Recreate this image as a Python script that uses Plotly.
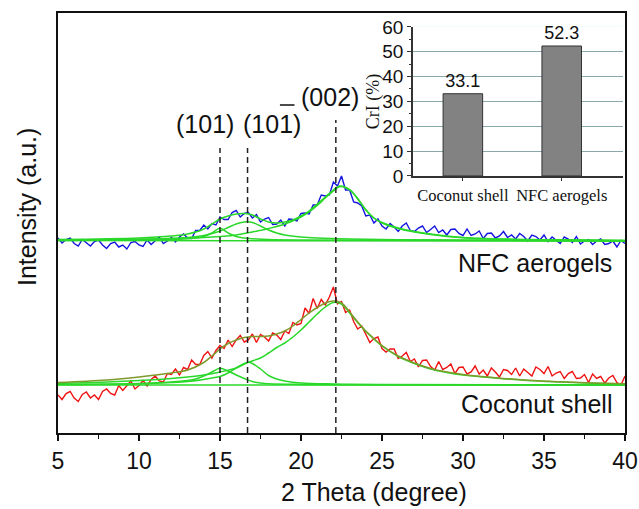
import plotly.graph_objects as go

# ---------------- data (intensity in arbitrary units) -------------
two_theta = [5 + 0.25 * i for i in range(141)]

nfc_raw = [195, 190, 193.5, 195, 189.5, 187, 193.5, 190, 187, 191.5, 193, 188, 184.5, 189.5, 191, 186, 188, 184, 190.5, 191.5,
           188, 186.5, 193, 188.5, 192.5, 196, 189.5, 192, 195.5, 191, 196, 199, 195, 194.5, 202.5, 202.5, 208, 204, 209.5, 208,
           216, 213.5, 213.5, 220.5, 222.5, 216, 219.5, 220.5, 215, 218.5, 211, 214, 215.5, 208.5, 209, 213, 207, 214, 213.5, 212,
           219.5, 220, 219, 228, 228, 238, 237, 238, 251, 247, 257, 243, 243, 231, 230, 227, 217, 218, 210, 214,
           207, 204, 209.5, 206, 201.5, 207, 210, 202.5, 201.5, 205, 207, 200.5, 203.5, 207, 200.5, 203, 198, 203.5, 204, 199.5,
           197.5, 204, 197.5, 199, 202, 194.5, 199.5, 200, 195, 197, 201.5, 195.5, 198, 194, 199.5, 196.5, 192, 198, 196.5, 193,
           198, 191.5, 196, 192.5, 189.5, 196, 194, 190.5, 196.5, 189, 192, 193.5, 188.5, 192, 194, 188.5, 189.5, 192, 186, 192.5,
           189.5]

coconut_raw = [38, 33.5, 39.5, 41.5, 35, 31.5, 38.5, 41, 35, 38, 33.5, 41.5, 44, 39.5, 38, 47.5, 42.5, 47.5, 52, 44,
               47.5, 52.5, 47, 53.5, 57, 52, 51, 59.5, 58.5, 64, 58, 65.5, 63.5, 73, 68.5, 68.5, 77.5, 81.5, 75, 82.5,
               87.5, 84.5, 93, 86.5, 93, 97.5, 91, 93, 99, 90.5, 98.5, 96, 92, 100, 98, 93.5, 102, 99.5, 110.5, 108,
               109.5, 125, 119.5, 134.5, 124.5, 133.5, 128, 136, 146, 129, 131.5, 120.5, 123, 111.5, 104, 107, 99, 90.5, 94.5, 96,
               84.5, 81, 84, 84, 74.5, 77, 80.5, 71.5, 74, 66, 72.5, 73, 66.5, 63, 71.5, 63.5, 65.5, 69, 59.5, 65.5,
               66, 59, 61, 67, 59, 63, 57, 65, 61, 56, 63.5, 62.5, 58.5, 65, 57, 64, 60.5, 57, 66, 63.5,
               59.5, 66.5, 57, 60, 61.5, 54.5, 59.5, 61.5, 54.5, 55, 58.5, 50.5, 59, 54.5, 56.5, 50, 55, 57.5, 50.5, 48,
               57]

# peak-fit components, NFC aerogels
nfc_base_x = [5, 40]
nfc_base_y = [192.5, 191.8]
nfc_p101_x = [5, 10, 12, 13, 13.5, 14, 14.5, 15, 15.5, 16, 16.5, 17, 18, 20, 25, 40]
nfc_p101_y = [192.6, 193, 193.5, 194.3, 195, 196.5, 200, 204.7, 200, 196.5, 195, 194.3, 193.5, 193, 192.7, 192.3]
nfc_p10m1_x = [5, 10, 12, 13, 14, 14.5, 15, 15.5, 16, 16.5, 16.7, 17, 17.5, 18, 18.5, 19, 20, 21, 23, 26, 30, 40]
nfc_p10m1_y = [192.8, 193.5, 194.5, 195.5, 197.5, 199.5, 202, 205.5, 209, 211, 211.3, 210.5, 207, 203, 200, 198,
               196, 195, 194, 193.3, 193, 192.4]
nfc_p002_x = [5, 8, 10, 12, 14, 15, 16, 17, 18, 19, 20, 20.5, 21, 21.5, 22, 22.4, 23, 23.5, 24, 24.5, 25, 26,
              27, 28, 30, 33, 36, 40]
nfc_p002_y = [192.8, 193.3, 193.8, 194.5, 195.5, 196.5, 198, 201, 204.5, 209, 216, 221, 227.5, 235, 242, 246.5,
              243, 234, 223, 215, 210, 204.5, 201, 198.5, 195.3, 193.6, 193, 192.2]
nfc_fit_x = [5, 10, 12, 13, 14, 14.5, 15, 15.5, 16, 16.5, 17, 17.5, 18, 18.5, 19, 19.5, 20, 20.5, 21, 21.5, 22,
             22.4, 23, 23.5, 24, 24.5, 25, 26, 27, 28, 30, 33, 36, 40]
nfc_fit_y = [193.5, 195, 197, 199, 204, 209, 214, 217, 219, 219.5, 218, 214, 211, 210, 211, 213, 217, 222, 229,
             236, 243, 247, 243.5, 234.5, 223.5, 215, 210.5, 205, 201.5, 199, 195.5, 193.8, 193.2, 192.4]

# peak-fit components, coconut shell
coc_base_x = [5, 40]
coc_base_y = [48, 48]
coc_p101_x = [5, 10, 12, 13, 13.5, 14, 14.5, 15, 15.5, 16, 16.5, 17, 17.5, 18, 20, 25, 40]
coc_p101_y = [48.5, 49.5, 51, 52.5, 54, 57, 61, 64.7, 62, 58, 54.5, 51.5, 50, 49.3, 48.6, 48.2, 48]
coc_p10m1_x = [5, 10, 12, 13, 14, 14.5, 15, 15.5, 16, 16.5, 16.75, 17, 17.5, 18, 18.5, 19, 20, 22, 25, 40]
coc_p10m1_y = [48.5, 49.3, 50.5, 51.5, 53.5, 55, 56.5, 60, 65, 69.5, 70.7, 69.5, 64, 57.5, 54, 52, 50, 49,
               48.5, 48.1]
coc_p002_x = [5, 8, 10, 12, 13, 14, 15, 16, 16.7, 17.5, 18, 18.5, 19, 19.5, 20, 20.5, 21, 21.5, 22, 22.5, 23,
              23.5, 24, 24.5, 25, 26, 27, 28, 29, 30, 32, 34, 36, 38, 40]
coc_p002_y = [49.5, 51, 52.5, 54.5, 56, 58, 61, 65, 70.5, 75, 80, 85.5, 90, 96, 103, 111, 119, 126, 130.5, 129,
              120, 110.5, 101.5, 94, 87, 76.5, 69.5, 64, 60.5, 58, 55, 52.5, 51, 49.8, 49]
coc_fit_x = [5, 8, 10, 12, 13, 14, 14.5, 15, 15.5, 16, 16.5, 17, 17.5, 18, 18.5, 19, 19.5, 20, 20.5, 21, 21.5,
             22, 22.5, 23, 23.5, 24, 24.5, 25, 26, 27, 28, 29, 30, 32, 34, 36, 38, 40]
coc_fit_y = [50.5, 53, 56, 60, 63, 70.5, 77, 84, 89.5, 93, 95.5, 96.5, 96.5, 97, 99, 102, 107, 113.5, 120, 125.5,
             130, 132, 130, 121, 111, 102, 94.5, 87.5, 77, 70, 64.5, 61, 58.5, 55.3, 52.8, 51.2, 50, 49.2]

# reflections
peak_positions = [15.0, 16.7, 22.15]
peak_line_tops = [285, 285, 313]

# inset: crystallinity index
cri_categories = ["Coconut shell", "NFC aerogels"]
cri_values = [33.1, 52.3]

# ---------------- figure -------------------------------------------------------------------
GREEN = "#2ad82a"
OLIVE = "#7f9a2c"
SANS = "Liberation Sans, Arial"
SERIF = "Liberation Serif, Times New Roman"
fig = go.Figure()

fig.add_trace(go.Scatter(x=two_theta, y=nfc_raw, mode="lines", line=dict(color="#1414e0", width=1.4),
                         showlegend=False, hoverinfo="skip"))
fig.add_trace(go.Scatter(x=two_theta, y=coconut_raw, mode="lines", line=dict(color="#f01212", width=1.4),
                         showlegend=False, hoverinfo="skip"))

for xs, ys, col in [(nfc_base_x, nfc_base_y, GREEN), (nfc_p101_x, nfc_p101_y, GREEN),
                    (nfc_p10m1_x, nfc_p10m1_y, GREEN), (nfc_p002_x, nfc_p002_y, GREEN),
                    (nfc_fit_x, nfc_fit_y, GREEN),
                    (coc_base_x, coc_base_y, GREEN), (coc_p101_x, coc_p101_y, GREEN),
                    (coc_p10m1_x, coc_p10m1_y, GREEN), (coc_p002_x, coc_p002_y, GREEN),
                    (coc_fit_x, coc_fit_y, OLIVE)]:
    fig.add_trace(go.Scatter(x=xs, y=ys, mode="lines", line=dict(color=col, width=1.5, shape="spline"),
                             showlegend=False, hoverinfo="skip"))

# dashed reference lines
for px, top in zip(peak_positions, peak_line_tops):
    fig.add_shape(type="line", xref="x", yref="y", x0=px, x1=px, y0=0, y1=top,
                  line=dict(color="#222", width=1.5, dash="6px,4px"))

# inset bars
fig.add_trace(go.Bar(x=[0, 1], y=cri_values, xaxis="x2", yaxis="y2", width=0.4,
                     marker=dict(color="#828282", line=dict(color="#333", width=1)),
                     text=[f"{v}" for v in cri_values], textposition="outside", cliponaxis=False,
                     textfont=dict(family=SANS, size=18, color="#111"),
                     showlegend=False, hoverinfo="skip"))

INSET_X = [0.626, 0.9965]
INSET_Y = [0.612, 0.967]
fig.add_shape(type="rect", xref="paper", yref="paper", x0=INSET_X[0], x1=INSET_X[1], y0=INSET_Y[0], y1=INSET_Y[1],
              fillcolor="#c6f3f8", line=dict(width=0), layer="below")
fig.add_annotation(x=0.557, y=(INSET_Y[0] + INSET_Y[1]) / 2, xref="paper", yref="paper", text="CrI (%)",
                   showarrow=False, textangle=-90, xanchor="center", yanchor="middle",
                   font=dict(family=SERIF, size=18, color="#111"))

# labels
lab_font = dict(family=SANS, size=25, color="#111")
fig.add_annotation(x=14.07, y=309.5, xref="x", yref="y", text="(101)", showarrow=False, font=lab_font)
fig.add_annotation(x=18.24, y=309.5, xref="x", yref="y", text="(101)", showarrow=False, font=lab_font)
fig.add_shape(type="line", xref="x", yref="y", x0=18.7, x1=19.6, y0=328, y1=328, line=dict(color="#111", width=1.5))
fig.add_annotation(x=21.79, y=336.5, xref="x", yref="y", text="(002)", showarrow=False, font=lab_font)
fig.add_annotation(x=39.3, y=170, xref="x", yref="y", text="NFC aerogels", showarrow=False, xanchor="right",
                   font=dict(family=SANS, size=25, color="#111"))
fig.add_annotation(x=39.3, y=29, xref="x", yref="y", text="Coconut shell", showarrow=False, xanchor="right",
                   font=dict(family=SANS, size=25, color="#111"))
fig.add_annotation(x=0.557, y=-0.1405, xref="paper", yref="paper", text="2 Theta (degree)", showarrow=False,
                   yanchor="middle", font=dict(family=SANS, size=25, color="#111"))
fig.add_annotation(x=-0.0547, y=0.538, xref="paper", yref="paper", text="Intensity (a.u.)", showarrow=False,
                   textangle=-90, xanchor="center", yanchor="middle",
                   font=dict(family=SANS, size=25, color="#111"))

fig.update_layout(
    width=639, height=509,
    margin=dict(l=58, r=14, t=13, b=76, autoexpand=False),
    paper_bgcolor="white", plot_bgcolor="white",
    showlegend=False,
    xaxis=dict(range=[5, 40], tickvals=[5, 10, 15, 20, 25, 30, 35, 40], ticks="outside", ticklen=6, tickwidth=1.5,
               tickcolor="#111", showline=True, linewidth=2, linecolor="#111", mirror=True, showgrid=False,
               zeroline=False, ticklabelstandoff=0, automargin=False,
               tickfont=dict(family=SANS, size=23, color="#111"),
               minor=dict(dtick=2.5, tick0=5, ticks="outside", ticklen=4, tickcolor="#111", tickwidth=1.2)),
    yaxis=dict(range=[0, 420], showticklabels=False, ticks="", showline=True, linewidth=2, linecolor="#111",
               mirror=True, showgrid=False, zeroline=False, automargin=False),
    xaxis2=dict(domain=INSET_X, anchor="y2", range=[-0.505, 1.62], tickvals=[0, 1], ticktext=cri_categories,
                tickangle=0, ticks="outside", ticklen=3, tickcolor="#333", showline=True, linewidth=1.5,
                linecolor="#333", showgrid=False, zeroline=False, automargin=False,
                tickfont=dict(family=SERIF, size=16.5, color="#111")),
    yaxis2=dict(domain=INSET_Y, anchor="x2", range=[0, 60], dtick=10, ticks="outside", ticklen=4,
                tickcolor="#333", showline=True, linewidth=1.5, linecolor="#333", showgrid=True,
                gridcolor="#8aa9ab", gridwidth=1, zeroline=False, automargin=False,
                tickfont=dict(family=SANS, size=19, color="#111"),
                minor=dict(dtick=5, ticks="outside", ticklen=2, tickcolor="#333")),
)

fig.write_html("out.html", config={"displayModeBar": False},
               post_script="document.body.style.margin='0';document.body.style.padding='0';")
